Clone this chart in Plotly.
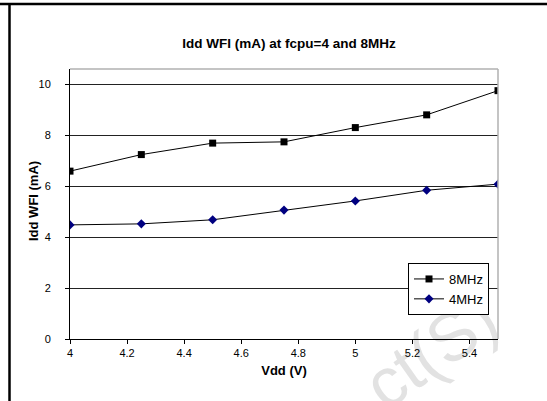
import plotly.graph_objects as go

vdd = [4.0, 4.25, 4.5, 4.75, 5.0, 5.25, 5.5]
idd_8mhz = [6.59, 7.24, 7.69, 7.74, 8.30, 8.80, 9.75]
idd_4mhz = [4.48, 4.52, 4.68, 5.06, 5.42, 5.84, 6.08]
x_ticks = [4, 4.2, 4.4, 4.6, 4.8, 5, 5.2, 5.4]
x_tick_labels = ["4", "4.2", "4.4", "4.6", "4.8", "5", "5.2", "5.4"]
y_ticks = [0, 2, 4, 6, 8, 10]

W, H = 547, 401
L, R, T, B = 70, 498, 69, 339

def px(x):
    return (x - L) / (R - L)

def py(y):
    return (B - y) / (B - T)

fig = go.Figure()
fig.add_trace(go.Scatter(
    x=vdd, y=idd_8mhz, name="8MHz", mode="lines+markers",
    line=dict(color="black", width=1),
    marker=dict(symbol="square", size=7, color="black"),
))
fig.add_trace(go.Scatter(
    x=vdd, y=idd_4mhz, name="4MHz", mode="lines+markers",
    line=dict(color="black", width=1),
    marker=dict(symbol="diamond", size=7, color="#000080"),
))

font = "Arial, Liberation Sans, sans-serif"

fig.update_layout(
    width=W, height=H,
    margin=dict(l=L, r=W - R, t=T, b=H - B),
    paper_bgcolor="white", plot_bgcolor="rgba(0,0,0,0)",
    font=dict(family=font, size=11, color="black"),
    title=dict(text="<b>Idd WFI (mA) at fcpu=4 and 8MHz</b>",
               x=px(289), xref="paper", xanchor="center",
               y=1 - 43 / H, yanchor="middle",
               font=dict(size=13.5, family=font)),
    showlegend=True,
    legend=dict(x=px(489), y=py(263), xanchor="right", yanchor="top",
                bgcolor="white", bordercolor="black", borderwidth=1,
                font=dict(size=13, family=font),
                itemwidth=30, tracegroupgap=0),
    xaxis=dict(range=[4, 5.5], tickvals=x_ticks, ticktext=x_tick_labels,
               showgrid=False, zeroline=False, showline=True,
               linecolor="black", linewidth=1, ticks="outside",
               ticklen=4, tickcolor="black",
               title=dict(text="<b>Vdd (V)</b>", font=dict(size=13), standoff=7),
               tickfont=dict(size=11), mirror=False),
    yaxis=dict(range=[0, 10.6], tickvals=y_ticks,
               showgrid=True, gridcolor="#222222", gridwidth=1,
               zeroline=False, showline=True, linecolor="black", linewidth=1,
               ticks="outside", ticklen=4, tickcolor="black",
               ticklabelstandoff=12,
               tickfont=dict(size=11)),
    annotations=[
        dict(text="<b>Idd WFI (mA)</b>", xref="paper", yref="paper",
             x=px(33), y=py(201), xanchor="center", yanchor="middle",
             textangle=-90, showarrow=False, font=dict(size=13, family=font)),
    ],
    shapes=[
        # watermark (below everything)
        dict(type="rect", xref="paper", yref="paper",
             x0=px(327), x1=px(527), y0=py(296), y1=py(396),
             line=dict(width=0), fillcolor="rgba(0,0,0,0)", layer="below",
             label=dict(text="ct(S)", textangle=-35, textposition="middle center",
                        font=dict(size=68, color="#e2e2e2", family=font))),
        # plot area border (grey)
        dict(type="line", xref="paper", yref="paper", x0=0, x1=1, y0=1, y1=1,
             line=dict(color="#b0b0b0", width=1.5)),
        dict(type="line", xref="paper", yref="paper", x0=1, x1=1, y0=0, y1=1,
             line=dict(color="#b0b0b0", width=1.5)),
        # page frame lines
        dict(type="line", xref="paper", yref="paper", x0=px(0), x1=px(W),
             y0=py(4), y1=py(4), line=dict(color="black", width=2.5)),
        dict(type="line", xref="paper", yref="paper", x0=px(9.5), x1=px(9.5),
             y0=py(3), y1=py(H + 2), line=dict(color="black", width=2.5)),
    ],
)

fig.write_html("out.html", config={"displayModeBar": False},
               post_script="document.body.style.margin='0px';")
